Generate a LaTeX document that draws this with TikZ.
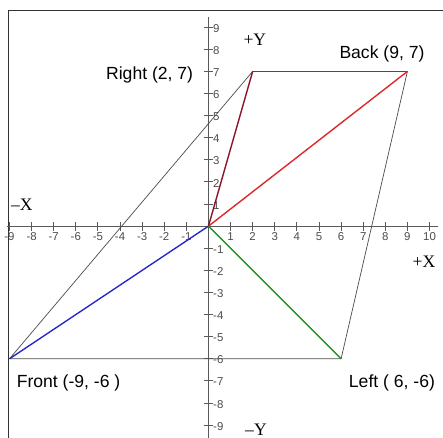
\documentclass[tikz,border=0pt]{standalone}
\usepackage{fontspec}
\setmainfont{Liberation Serif}
\setsansfont{Liberation Sans}
\usetikzlibrary{positioning}

\definecolor{vecred}{RGB}{222,40,44}
\definecolor{vecmaroon}{RGB}{140,20,40}
\definecolor{vecblue}{RGB}{40,40,200}
\definecolor{vecgreen}{RGB}{40,140,40}

\begin{document}
\begin{tikzpicture}[x=0.442cm, y=0.442cm,
  frame/.style    = {draw=black!80, line width=0.7pt},
  axis/.style     = {draw=black!65, line width=0.6pt},
  tickmark/.style = {draw=black!65, line width=0.5pt},
  num/.style      = {font=\sffamily\fontsize{6.5}{7}\selectfont, text=black!70,
                     inner sep=1pt},
  edge/.style     = {draw=black!70, line width=0.4pt},
  vec/.style      = {line width=0.8pt},
  ptlbl/.style    = {font=\sffamily\fontsize{10}{12}\selectfont, inner sep=1pt},
  axlbl/.style    = {font=\normalsize, inner sep=1pt},
]
  \useasboundingbox (-9.43,-9.55) rectangle (10.61,10.23);

  \draw[frame] (-9.05,-9.7) |- (10.8,9.77);

  % axes and ticks
  \draw[axis] (-9.1,0) -- (10.4,0);
  \draw[axis] (0,-9.7) -- (0,9.45);
  \foreach \i in {-9,...,-1,1,2,...,10} {
    \draw[tickmark] (\i,-0.2) -- (\i,0.2);
    \node[num, below] at (\i,-0.2) {\i};
  }
  \foreach \j in {-9,...,-1,1,2,...,9} {
    \draw[tickmark] (-0.2,\j) -- (0.2,\j);
    \node[num, right] at (0.12,\j-0.05) {\j};
  }

  \coordinate (O) at (0,0);
  \coordinate (front) at (-9,-6);
  \coordinate (right) at (2,7);
  \coordinate (back) at (9,7);
  \coordinate (left) at (6,-6);

  \draw[edge] (front) -- (right) -- (back) -- (left) -- cycle;

  \draw[vec, vecred] (O) -- (back);
  \draw[vec, vecmaroon] (O) -- (right);
  \draw[vec, vecblue] (O) -- (front);
  \draw[vec, vecgreen] (O) -- (left);

  \node[axlbl] (xneg) at (-8.44,0.95) {--X};
  \node[axlbl] (xpos) at (9.75,-1.63) {+X};
  \node[axlbl] (ypos) at (2.1,8.42) {+Y};
  \node[axlbl] (yneg) at (2.15,-9.19) {--Y};

  \node[ptlbl, anchor=east] (rightlbl) at (-0.6,6.83) {Right (2, 7)};
  \node[ptlbl] (backlbl) at (7.85,7.78) {Back (9, 7)};
  \node[ptlbl] (frontlbl) at (-6.33,-7.1) {Front (-9, -6 )};
  \node[ptlbl] (leftlbl) at (8.3,-7.1) {Left ( 6, -6)};
\end{tikzpicture}
\end{document}
